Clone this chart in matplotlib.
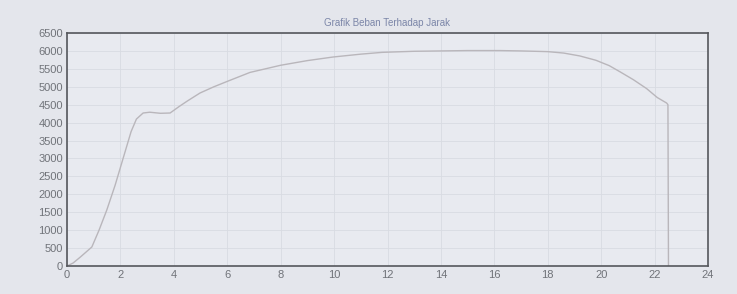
import matplotlib.pyplot as plt

plt.rcParams['font.family'] = ['Liberation Sans', 'DejaVu Sans']

# data: jarak (x) vs beban (y)
jarak = [0.0, 0.23, 0.5, 0.93, 1.2, 1.49, 1.8, 2.0, 2.2, 2.4, 2.6, 2.85,
         3.1, 3.5, 3.86, 4.2, 4.5, 4.98, 5.5, 6.0, 6.85, 8.0, 9.0, 9.96, 11.0,
         11.8, 13.0, 14.0, 15.0, 16.2, 17.0, 18.0, 18.6, 19.2, 19.8, 20.3, 20.7,
         21.2, 21.7, 22.1, 22.45, 22.5, 22.52]
beban = [0, 84, 250, 530, 1000, 1562, 2250, 2750, 3250, 3750, 4100, 4268,
         4290, 4260, 4268, 4450, 4600, 4826, 5000, 5150, 5400, 5600, 5730, 5830, 5910,
         5960, 5990, 6000, 6010, 6010, 6000, 5980, 5940, 5860, 5740, 5590, 5420,
         5200, 4950, 4700, 4547, 4500, 0]

xticks = list(range(0, 25, 2))
yticks = list(range(0, 6501, 500))

fig = plt.figure(figsize=(7.37, 2.94), dpi=100)
fig.patch.set_facecolor('#e4e6ec')
ax = fig.add_axes([67 / 737, 28 / 294, 641 / 737, 233 / 294])
ax.set_facecolor('#e8eaf0')

ax.plot(jarak, beban, color='#b9b6bb', linewidth=1.0)

ax.set_xlim(0, 24)
ax.set_ylim(0, 6500)
ax.set_xticks(xticks)
ax.set_yticks(yticks)
ax.grid(True, color='#d8dbe2', linewidth=0.6)
ax.tick_params(labelsize=8, colors='#707379', length=0, pad=3)
for s in ax.spines.values():
    s.set_color('#55575c')
    s.set_linewidth(1.2)

ax.set_title('Grafik Beban Terhadap Jarak', fontsize=7, color='#7b86a8', pad=5)

plt.savefig('out.png', dpi=100, facecolor=fig.get_facecolor())
